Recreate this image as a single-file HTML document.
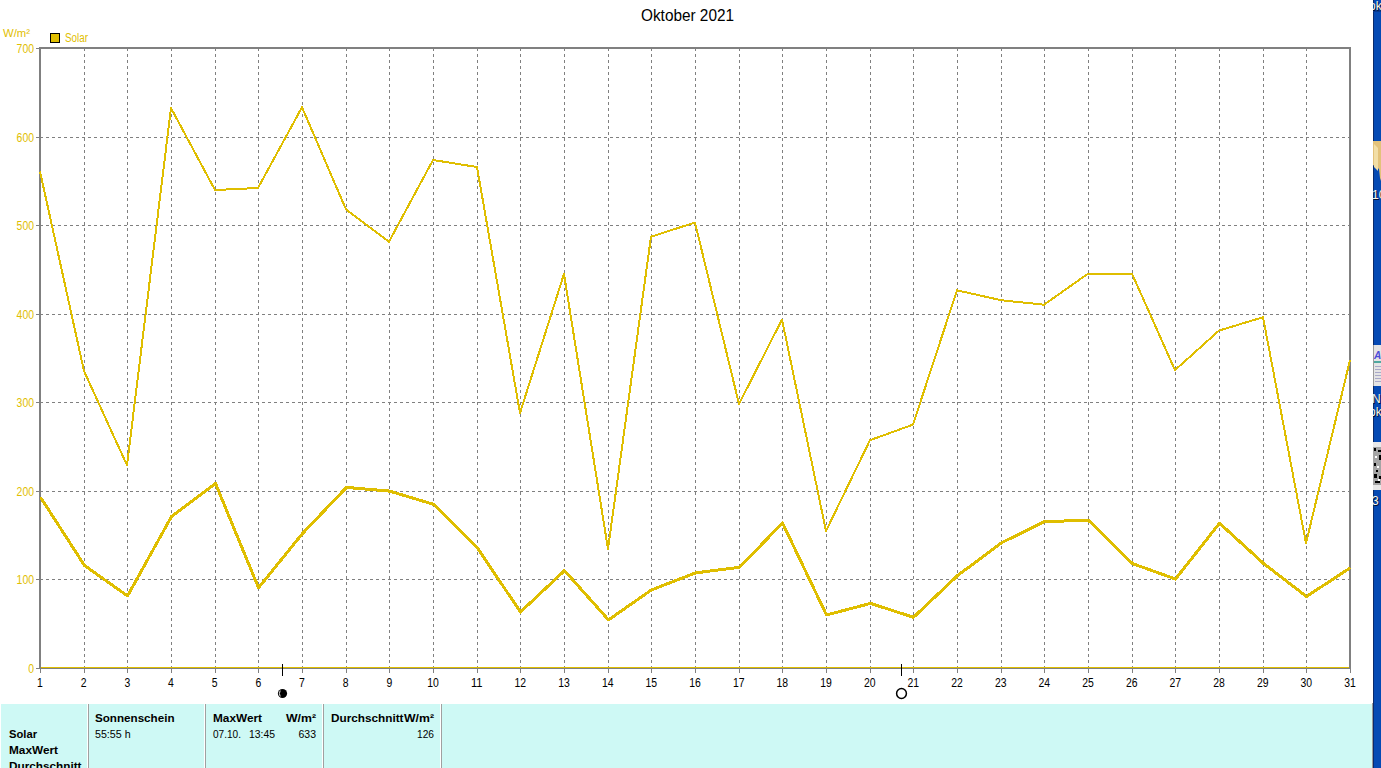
<!DOCTYPE html>
<html><head><meta charset="utf-8"><title>Oktober 2021</title>
<style>
html,body{margin:0;padding:0;background:#fff;width:1381px;height:768px;overflow:hidden}
svg{display:block;font-family:"Liberation Sans",sans-serif}
</style></head><body>
<svg width="1381" height="768" viewBox="0 0 1381 768">
<rect x="0" y="0" width="1381" height="768" fill="#fff"/>

<text x="641" y="21" font-size="16" fill="#000" textLength="93" lengthAdjust="spacingAndGlyphs">Oktober 2021</text>
<text x="3" y="37" font-size="11" fill="#dfbe00" textLength="27" lengthAdjust="spacingAndGlyphs">W/m²</text>
<rect x="50.5" y="33.5" width="9" height="9" fill="#dfbe00" stroke="#000" stroke-width="1"/>
<text x="65" y="42" font-size="12" fill="#dfbe00" textLength="23" lengthAdjust="spacingAndGlyphs">Solar</text>
<g stroke="#808080" stroke-width="1" stroke-dasharray="3 3" shape-rendering="crispEdges"><line x1="40" y1="137.5" x2="1349" y2="137.5"/><line x1="40" y1="225.5" x2="1349" y2="225.5"/><line x1="40" y1="314.5" x2="1349" y2="314.5"/><line x1="40" y1="402.5" x2="1349" y2="402.5"/><line x1="40" y1="491.5" x2="1349" y2="491.5"/><line x1="40" y1="579.5" x2="1349" y2="579.5"/><line x1="84.5" y1="48" x2="84.5" y2="667"/><line x1="127.5" y1="48" x2="127.5" y2="667"/><line x1="171.5" y1="48" x2="171.5" y2="667"/><line x1="215.5" y1="48" x2="215.5" y2="667"/><line x1="258.5" y1="48" x2="258.5" y2="667"/><line x1="302.5" y1="48" x2="302.5" y2="667"/><line x1="346.5" y1="48" x2="346.5" y2="667"/><line x1="389.5" y1="48" x2="389.5" y2="667"/><line x1="433.5" y1="48" x2="433.5" y2="667"/><line x1="477.5" y1="48" x2="477.5" y2="667"/><line x1="520.5" y1="48" x2="520.5" y2="667"/><line x1="564.5" y1="48" x2="564.5" y2="667"/><line x1="608.5" y1="48" x2="608.5" y2="667"/><line x1="651.5" y1="48" x2="651.5" y2="667"/><line x1="695.5" y1="48" x2="695.5" y2="667"/><line x1="739.5" y1="48" x2="739.5" y2="667"/><line x1="782.5" y1="48" x2="782.5" y2="667"/><line x1="826.5" y1="48" x2="826.5" y2="667"/><line x1="870.5" y1="48" x2="870.5" y2="667"/><line x1="913.5" y1="48" x2="913.5" y2="667"/><line x1="957.5" y1="48" x2="957.5" y2="667"/><line x1="1001.5" y1="48" x2="1001.5" y2="667"/><line x1="1044.5" y1="48" x2="1044.5" y2="667"/><line x1="1088.5" y1="48" x2="1088.5" y2="667"/><line x1="1132.5" y1="48" x2="1132.5" y2="667"/><line x1="1175.5" y1="48" x2="1175.5" y2="667"/><line x1="1219.5" y1="48" x2="1219.5" y2="667"/><line x1="1263.5" y1="48" x2="1263.5" y2="667"/><line x1="1306.5" y1="48" x2="1306.5" y2="667"/></g>
<g stroke="#808080" stroke-width="1" shape-rendering="crispEdges"><line x1="36" y1="48.5" x2="39" y2="48.5"/><line x1="36" y1="137.5" x2="39" y2="137.5"/><line x1="36" y1="225.5" x2="39" y2="225.5"/><line x1="36" y1="314.5" x2="39" y2="314.5"/><line x1="36" y1="402.5" x2="39" y2="402.5"/><line x1="36" y1="491.5" x2="39" y2="491.5"/><line x1="36" y1="579.5" x2="39" y2="579.5"/><line x1="36" y1="668.5" x2="39" y2="668.5"/><line x1="40.5" y1="669" x2="40.5" y2="673"/><line x1="84.5" y1="669" x2="84.5" y2="673"/><line x1="127.5" y1="669" x2="127.5" y2="673"/><line x1="171.5" y1="669" x2="171.5" y2="673"/><line x1="215.5" y1="669" x2="215.5" y2="673"/><line x1="258.5" y1="669" x2="258.5" y2="673"/><line x1="302.5" y1="669" x2="302.5" y2="673"/><line x1="346.5" y1="669" x2="346.5" y2="673"/><line x1="389.5" y1="669" x2="389.5" y2="673"/><line x1="433.5" y1="669" x2="433.5" y2="673"/><line x1="477.5" y1="669" x2="477.5" y2="673"/><line x1="520.5" y1="669" x2="520.5" y2="673"/><line x1="564.5" y1="669" x2="564.5" y2="673"/><line x1="608.5" y1="669" x2="608.5" y2="673"/><line x1="651.5" y1="669" x2="651.5" y2="673"/><line x1="695.5" y1="669" x2="695.5" y2="673"/><line x1="739.5" y1="669" x2="739.5" y2="673"/><line x1="782.5" y1="669" x2="782.5" y2="673"/><line x1="826.5" y1="669" x2="826.5" y2="673"/><line x1="870.5" y1="669" x2="870.5" y2="673"/><line x1="913.5" y1="669" x2="913.5" y2="673"/><line x1="957.5" y1="669" x2="957.5" y2="673"/><line x1="1001.5" y1="669" x2="1001.5" y2="673"/><line x1="1044.5" y1="669" x2="1044.5" y2="673"/><line x1="1088.5" y1="669" x2="1088.5" y2="673"/><line x1="1132.5" y1="669" x2="1132.5" y2="673"/><line x1="1175.5" y1="669" x2="1175.5" y2="673"/><line x1="1219.5" y1="669" x2="1219.5" y2="673"/><line x1="1263.5" y1="669" x2="1263.5" y2="673"/><line x1="1306.5" y1="669" x2="1306.5" y2="673"/><line x1="1350.5" y1="669" x2="1350.5" y2="673"/></g>
<rect x="40" y="48" width="1310" height="620" fill="none" stroke="#808080" stroke-width="2" shape-rendering="crispEdges"/>
<text x="34" y="52.5" font-size="12" fill="#dfbe00" text-anchor="end" textLength="17.4" lengthAdjust="spacingAndGlyphs">700</text>
<text x="34" y="141.5" font-size="12" fill="#dfbe00" text-anchor="end" textLength="17.4" lengthAdjust="spacingAndGlyphs">600</text>
<text x="34" y="229.5" font-size="12" fill="#dfbe00" text-anchor="end" textLength="17.4" lengthAdjust="spacingAndGlyphs">500</text>
<text x="34" y="318.5" font-size="12" fill="#dfbe00" text-anchor="end" textLength="17.4" lengthAdjust="spacingAndGlyphs">400</text>
<text x="34" y="406.5" font-size="12" fill="#dfbe00" text-anchor="end" textLength="17.4" lengthAdjust="spacingAndGlyphs">300</text>
<text x="34" y="495.5" font-size="12" fill="#dfbe00" text-anchor="end" textLength="17.4" lengthAdjust="spacingAndGlyphs">200</text>
<text x="34" y="583.5" font-size="12" fill="#dfbe00" text-anchor="end" textLength="17.4" lengthAdjust="spacingAndGlyphs">100</text>
<text x="34" y="672.5" font-size="12" fill="#dfbe00" text-anchor="end" textLength="5.8" lengthAdjust="spacingAndGlyphs">0</text>
<line x1="41" y1="667.5" x2="1349" y2="667.5" stroke="#dfbe00" stroke-width="1" shape-rendering="crispEdges"/>
<polyline points="40,171.5 84,371 127,465.3 171,108 215,190 258,188 302,107.2 346,209.4 389,241.7 433,160 477,167 520,413 564,274 608,549.0 651,236.7 695,222.5 739,404 782,319.5 826,531.0 870,440.2 913,424.6 957,290.3 1001,300.2 1044,304.7 1088,273.7 1132,273.7 1175,370.1 1219,330.6 1263,317.2 1306,543.2 1350,360.1" fill="none" stroke="#dfbe00" stroke-width="2" stroke-linejoin="round" shape-rendering="crispEdges"/>
<polyline points="40.5,497.2 84.5,565.5 127.5,595.9 171.5,516.6 215.5,483.5 258.5,587.8 302.5,533.5 346.5,487.4 389.5,491.1 433.5,504.3 477.5,548.2 520.5,612.0 564.5,570.6 608.5,619.9 651.5,589.9 695.5,572.9 739.5,567.3 782.5,523 826.5,615.0 870.5,603.4 913.5,617.3 957.5,575.6 1001.5,542.8 1044.5,521.5 1088.5,520.4 1132.5,563.6 1175.5,579.0 1219.5,523.2 1263.5,563.4 1306.5,596.5 1350.5,567.7" fill="none" stroke="#dfbe00" stroke-width="3" stroke-linejoin="round" shape-rendering="crispEdges"/>
<text x="40.0" y="687" font-size="12" fill="#000" text-anchor="middle" textLength="5.8" lengthAdjust="spacingAndGlyphs">1</text>
<text x="83.7" y="687" font-size="12" fill="#000" text-anchor="middle" textLength="5.8" lengthAdjust="spacingAndGlyphs">2</text>
<text x="127.3" y="687" font-size="12" fill="#000" text-anchor="middle" textLength="5.8" lengthAdjust="spacingAndGlyphs">3</text>
<text x="171.0" y="687" font-size="12" fill="#000" text-anchor="middle" textLength="5.8" lengthAdjust="spacingAndGlyphs">4</text>
<text x="214.7" y="687" font-size="12" fill="#000" text-anchor="middle" textLength="5.8" lengthAdjust="spacingAndGlyphs">5</text>
<text x="258.3" y="687" font-size="12" fill="#000" text-anchor="middle" textLength="5.8" lengthAdjust="spacingAndGlyphs">6</text>
<text x="302.0" y="687" font-size="12" fill="#000" text-anchor="middle" textLength="5.8" lengthAdjust="spacingAndGlyphs">7</text>
<text x="345.7" y="687" font-size="12" fill="#000" text-anchor="middle" textLength="5.8" lengthAdjust="spacingAndGlyphs">8</text>
<text x="389.3" y="687" font-size="12" fill="#000" text-anchor="middle" textLength="5.8" lengthAdjust="spacingAndGlyphs">9</text>
<text x="433.0" y="687" font-size="12" fill="#000" text-anchor="middle" textLength="11.6" lengthAdjust="spacingAndGlyphs">10</text>
<text x="476.7" y="687" font-size="12" fill="#000" text-anchor="middle" textLength="11.6" lengthAdjust="spacingAndGlyphs">11</text>
<text x="520.3" y="687" font-size="12" fill="#000" text-anchor="middle" textLength="11.6" lengthAdjust="spacingAndGlyphs">12</text>
<text x="564.0" y="687" font-size="12" fill="#000" text-anchor="middle" textLength="11.6" lengthAdjust="spacingAndGlyphs">13</text>
<text x="607.7" y="687" font-size="12" fill="#000" text-anchor="middle" textLength="11.6" lengthAdjust="spacingAndGlyphs">14</text>
<text x="651.3" y="687" font-size="12" fill="#000" text-anchor="middle" textLength="11.6" lengthAdjust="spacingAndGlyphs">15</text>
<text x="695.0" y="687" font-size="12" fill="#000" text-anchor="middle" textLength="11.6" lengthAdjust="spacingAndGlyphs">16</text>
<text x="738.7" y="687" font-size="12" fill="#000" text-anchor="middle" textLength="11.6" lengthAdjust="spacingAndGlyphs">17</text>
<text x="782.3" y="687" font-size="12" fill="#000" text-anchor="middle" textLength="11.6" lengthAdjust="spacingAndGlyphs">18</text>
<text x="826.0" y="687" font-size="12" fill="#000" text-anchor="middle" textLength="11.6" lengthAdjust="spacingAndGlyphs">19</text>
<text x="869.7" y="687" font-size="12" fill="#000" text-anchor="middle" textLength="11.6" lengthAdjust="spacingAndGlyphs">20</text>
<text x="913.3" y="687" font-size="12" fill="#000" text-anchor="middle" textLength="11.6" lengthAdjust="spacingAndGlyphs">21</text>
<text x="957.0" y="687" font-size="12" fill="#000" text-anchor="middle" textLength="11.6" lengthAdjust="spacingAndGlyphs">22</text>
<text x="1000.7" y="687" font-size="12" fill="#000" text-anchor="middle" textLength="11.6" lengthAdjust="spacingAndGlyphs">23</text>
<text x="1044.3" y="687" font-size="12" fill="#000" text-anchor="middle" textLength="11.6" lengthAdjust="spacingAndGlyphs">24</text>
<text x="1088.0" y="687" font-size="12" fill="#000" text-anchor="middle" textLength="11.6" lengthAdjust="spacingAndGlyphs">25</text>
<text x="1131.7" y="687" font-size="12" fill="#000" text-anchor="middle" textLength="11.6" lengthAdjust="spacingAndGlyphs">26</text>
<text x="1175.3" y="687" font-size="12" fill="#000" text-anchor="middle" textLength="11.6" lengthAdjust="spacingAndGlyphs">27</text>
<text x="1219.0" y="687" font-size="12" fill="#000" text-anchor="middle" textLength="11.6" lengthAdjust="spacingAndGlyphs">28</text>
<text x="1262.7" y="687" font-size="12" fill="#000" text-anchor="middle" textLength="11.6" lengthAdjust="spacingAndGlyphs">29</text>
<text x="1306.3" y="687" font-size="12" fill="#000" text-anchor="middle" textLength="11.6" lengthAdjust="spacingAndGlyphs">30</text>
<text x="1350.0" y="687" font-size="12" fill="#000" text-anchor="middle" textLength="11.6" lengthAdjust="spacingAndGlyphs">31</text>
<g stroke="#000" stroke-width="1" shape-rendering="crispEdges"><line x1="282.5" y1="664" x2="282.5" y2="676"/><line x1="901.5" y1="664" x2="901.5" y2="676"/></g>
<circle cx="282.5" cy="693.5" r="4.6" fill="#000"/>
<path d="M280.2,690.5 Q278.6,693.5 280.2,696.5" stroke="#fff" stroke-width="0.9" fill="none"/>
<circle cx="901.5" cy="693.5" r="4.9" fill="none" stroke="#000" stroke-width="1.5"/>
<rect x="1" y="704" width="1371" height="64" fill="#cef9f5"/><rect x="1372" y="703" width="1" height="65" fill="#9c9c9c"/>
<g stroke="#fff" stroke-width="1" shape-rendering="crispEdges"><line x1="87.5" y1="704" x2="87.5" y2="768"/><line x1="204.5" y1="704" x2="204.5" y2="768"/><line x1="322.5" y1="704" x2="322.5" y2="768"/><line x1="440.5" y1="704" x2="440.5" y2="768"/></g>
<g stroke="#a0a0a0" stroke-width="1" shape-rendering="crispEdges"><line x1="88.5" y1="704" x2="88.5" y2="768"/><line x1="205.5" y1="704" x2="205.5" y2="768"/><line x1="323.5" y1="704" x2="323.5" y2="768"/><line x1="441.5" y1="704" x2="441.5" y2="768"/></g>
<text x="95" y="722" font-size="11.5" font-weight="bold" fill="#000" text-anchor="start" textLength="79.5" lengthAdjust="spacingAndGlyphs">Sonnenschein</text>
<text x="213" y="722" font-size="11.5" font-weight="bold" fill="#000" text-anchor="start" textLength="49" lengthAdjust="spacingAndGlyphs">MaxWert</text>
<text x="316" y="722" font-size="11.5" font-weight="bold" fill="#000" text-anchor="end" textLength="30" lengthAdjust="spacingAndGlyphs">W/m²</text>
<text x="331" y="722" font-size="11.5" font-weight="bold" fill="#000" text-anchor="start" textLength="72.5" lengthAdjust="spacingAndGlyphs">Durchschnitt</text>
<text x="434" y="722" font-size="11.5" font-weight="bold" fill="#000" text-anchor="end" textLength="30" lengthAdjust="spacingAndGlyphs">W/m²</text>
<text x="9" y="738" font-size="11.5" font-weight="bold" fill="#000" text-anchor="start" textLength="28" lengthAdjust="spacingAndGlyphs">Solar</text>
<text x="9" y="754" font-size="11.5" font-weight="bold" fill="#000" text-anchor="start" textLength="49" lengthAdjust="spacingAndGlyphs">MaxWert</text>
<text x="9" y="770" font-size="11.5" font-weight="bold" fill="#000" text-anchor="start" textLength="72.5" lengthAdjust="spacingAndGlyphs">Durchschnitt</text>
<text x="95" y="738" font-size="11" fill="#000" text-anchor="start" textLength="35.6" lengthAdjust="spacingAndGlyphs">55:55 h</text>
<text x="213" y="738" font-size="11" fill="#000" text-anchor="start" textLength="28" lengthAdjust="spacingAndGlyphs">07.10.</text>
<text x="249" y="738" font-size="11" fill="#000" text-anchor="start" textLength="26" lengthAdjust="spacingAndGlyphs">13:45</text>
<text x="316" y="738" font-size="11" fill="#000" text-anchor="end" textLength="17.5" lengthAdjust="spacingAndGlyphs">633</text>
<text x="434" y="738" font-size="11" fill="#000" text-anchor="end" textLength="17" lengthAdjust="spacingAndGlyphs">126</text>
<defs><clipPath id="strip"><rect x="1373" y="0" width="8" height="768"/></clipPath></defs><g clip-path="url(#strip)">
<rect x="1373" y="0" width="8" height="768" fill="#054ab4"/>
<rect x="1373" y="0" width="1" height="768" fill="#0a2a6a"/>
<rect x="1373" y="10" width="8" height="2" fill="#07388f"/>
<text x="1370" y="11" font-size="12" fill="#001030">ok</text><text x="1369" y="10" font-size="12" fill="#fff8e8">ok</text>
<path d="M1373,141 L1381,141 L1381,181 L1380,178 L1379,169 L1373,165 Z" fill="#e3c27a"/>
<path d="M1374,144 L1378,148 L1378,171 L1374,167 Z" fill="#f2dea6"/>
<text x="1373" y="200" font-size="12" fill="#001030">10</text><text x="1372" y="199" font-size="12" fill="#fff8e8">10</text>
<rect x="1373" y="345" width="8" height="41" fill="#e4e4e4"/>
<rect x="1373" y="345" width="1" height="41" fill="#9a9a9a"/><text x="1374" y="359" font-size="10" font-weight="bold" font-style="italic" fill="#4a4ad8">A</text>
<rect x="1374" y="361" width="7" height="2" fill="#50a8a0"/>
<g fill="#a8a8c8"><rect x="1375" y="366" width="6" height="1"/><rect x="1375" y="369" width="6" height="1"/><rect x="1375" y="372" width="6" height="1"/><rect x="1375" y="375" width="6" height="1"/><rect x="1375" y="378" width="6" height="1"/><rect x="1375" y="381" width="6" height="1"/></g>
<text x="1373" y="404" font-size="12" fill="#001030">Ne</text><text x="1372" y="403" font-size="12" fill="#fff8e8">Ne</text>
<text x="1370" y="417" font-size="12" fill="#001030">ok</text><text x="1369" y="416" font-size="12" fill="#fff8e8">ok</text>
<rect x="1373" y="442" width="8" height="48" fill="#e8e8e8"/>
<rect x="1373" y="447" width="8" height="38" fill="#a4a4a4"/>
<g fill="#000"><rect x="1374" y="448" width="2" height="3"/><rect x="1378" y="450" width="3" height="2"/><rect x="1379" y="455" width="2" height="5"/><rect x="1374" y="463" width="2" height="3"/><rect x="1376" y="470" width="2" height="2"/><rect x="1374" y="474" width="3" height="4"/><rect x="1379" y="476" width="2" height="3"/><rect x="1375" y="481" width="5" height="2"/></g>
<g fill="#fff"><rect x="1375" y="456" width="2" height="2"/><rect x="1377" y="466" width="2" height="2"/><rect x="1378" y="479" width="2" height="2"/></g>
<text x="1373" y="506" font-size="12" fill="#001030">3</text><text x="1372" y="505" font-size="12" fill="#fff8e8">3</text>
</g>
</svg>
</body></html>
